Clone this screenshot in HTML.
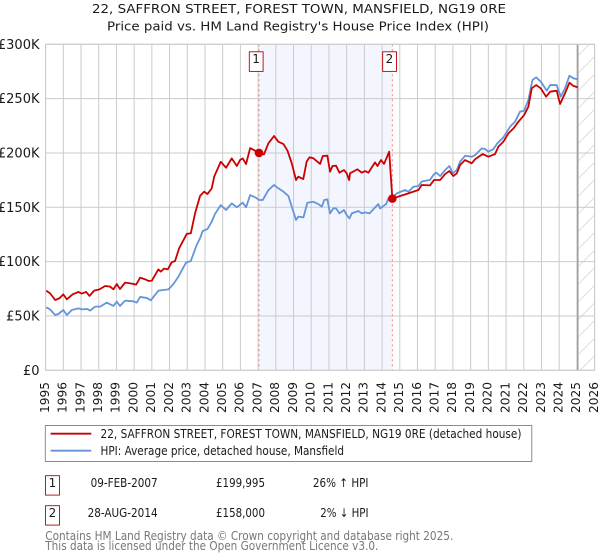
<!DOCTYPE html>
<html>
<head>
<meta charset="utf-8">
<style>
html,body{margin:0;padding:0;background:#fff;}
svg{display:block;}
text{font-family:"DejaVu Sans","Liberation Sans",sans-serif;fill:#1a1a1a;}
</style>
</head>
<body>
<svg id="chart" xmlns="http://www.w3.org/2000/svg" width="600" height="560" viewBox="0 0 600 560">
<defs>
<pattern id="hatch" patternUnits="userSpaceOnUse" width="17.6" height="17.6">
<path d="M-2 19.6 L19.6 -2" stroke="#d8d8d8" stroke-width="0.9" fill="none"/>
</pattern>
</defs>
<text x="299" y="13" text-anchor="middle" font-size="12.5" textLength="414" lengthAdjust="spacingAndGlyphs">22, SAFFRON STREET, FOREST TOWN, MANSFIELD, NG19 0RE</text>
<text x="298" y="30.5" text-anchor="middle" font-size="12.5" textLength="382" lengthAdjust="spacingAndGlyphs">Price paid vs. HM Land Registry's House Price Index (HPI)</text>
<g id="plot"></g>
<g>
<rect x="45.3" y="425.5" width="486.5" height="36" fill="#fff" stroke="#808080" stroke-width="0.9"/>
<line x1="50.6" y1="433.7" x2="91.3" y2="433.7" stroke="#cc0000" stroke-width="1.8"/>
<text x="100.5" y="437.8" font-size="12" textLength="421" lengthAdjust="spacingAndGlyphs">22, SAFFRON STREET, FOREST TOWN, MANSFIELD, NG19 0RE (detached house)</text>
<line x1="50.6" y1="450.7" x2="91.3" y2="450.7" stroke="#6495d8" stroke-width="1.8"/>
<text x="100.5" y="454.8" font-size="12" textLength="243.5" lengthAdjust="spacingAndGlyphs">HPI: Average price, detached house, Mansfield</text>
</g>
<g>
<rect x="45.5" y="475.7" width="14" height="19.4" fill="#fff" stroke="#bb0000" stroke-width="0.9"/>
<text x="52.5" y="487.2" text-anchor="middle" font-size="12">1</text>
<text x="157.6" y="487.2" text-anchor="end" font-size="12" textLength="67" lengthAdjust="spacingAndGlyphs">09-FEB-2007</text>
<text x="265" y="487.2" text-anchor="end" font-size="12" textLength="49" lengthAdjust="spacingAndGlyphs">£199,995</text>
<text x="368.5" y="487.2" text-anchor="end" font-size="12" textLength="55.6" lengthAdjust="spacingAndGlyphs">26% ↑ HPI</text>
</g>
<g>
<rect x="45.5" y="505.7" width="14" height="19.4" fill="#fff" stroke="#bb0000" stroke-width="0.9"/>
<text x="52.5" y="517.2" text-anchor="middle" font-size="12">2</text>
<text x="157.6" y="517.2" text-anchor="end" font-size="12" textLength="70" lengthAdjust="spacingAndGlyphs">28-AUG-2014</text>
<text x="265" y="517.2" text-anchor="end" font-size="12" textLength="49" lengthAdjust="spacingAndGlyphs">£158,000</text>
<text x="368.5" y="517.2" text-anchor="end" font-size="12" textLength="48.3" lengthAdjust="spacingAndGlyphs">2% ↓ HPI</text>
</g>
<text x="45.3" y="540" font-size="12" style="fill:#777" textLength="408" lengthAdjust="spacingAndGlyphs">Contains HM Land Registry data © Crown copyright and database right 2025.</text>
<text x="45.3" y="550" font-size="12" style="fill:#777" textLength="333" lengthAdjust="spacingAndGlyphs">This data is licensed under the Open Government Licence v3.0.</text>
</svg>
<script>
const yearTicks = [1995,1996,1997,1998,1999,2000,2001,2002,2003,2004,2005,2006,2007,2008,2009,2010,2011,2012,2013,2014,2015,2016,2017,2018,2019,2020,2021,2022,2023,2024,2025,2026];
const priceTicks = [0,50,100,150,200,250,300];
const priceTickLabels = ['£0','£50K','£100K','£150K','£200K','£250K','£300K'];

const hpiYears = [1995.03,1995.25,1995.54,1995.72,1996,1996.2,1996.48,1996.85,1997.04,1997.36,1997.51,1997.8,1998.08,1998.45,1998.83,1999.02,1999.2,1999.49,1999.96,2000.15,2000.34,2000.71,2000.94,2001.37,2001.65,2001.94,2002.22,2002.5,2002.93,2003.2,2003.53,2003.72,2003.87,2004.14,2004.38,2004.57,2004.89,2005.19,2005.51,2005.8,2006.13,2006.32,2006.55,2006.83,2007.07,2007.26,2007.58,2007.9,2008.14,2008.43,2008.71,2008.9,2009.14,2009.27,2009.56,2009.78,2010.12,2010.4,2010.6,2010.73,2010.91,2011.06,2011.25,2011.4,2011.59,2011.85,2012,2012.16,2012.29,2012.66,2012.86,2013.04,2013.29,2013.61,2013.79,2013.89,2014.23,2014.36,2014.55,2014.83,2015.3,2015.49,2015.77,2016.05,2016.24,2016.71,2016.9,2017.05,2017.28,2017.56,2017.8,2017.99,2018.22,2018.4,2018.69,2019.06,2019.25,2019.63,2019.82,2020,2020.29,2020.51,2020.85,2021.23,2021.51,2021.79,2022.02,2022.26,2022.49,2022.7,2022.96,2023.3,2023.49,2023.86,2024.09,2024.33,2024.58,2024.8,2025.05];
const hpiValues = [58,56.1,50.9,51.8,55.5,50.9,55.5,57,56.1,56.4,54.9,58.6,58.6,62.3,59.2,63.2,59.2,64.1,63.5,62.3,67.5,66.6,64.4,73.3,73.9,74.5,79.4,86.2,99.1,100.6,115.3,121.5,128.2,130,136.8,144,152,147.5,153.6,150,154.3,150,161.3,159.2,156.7,156.7,165.9,170.6,167.5,164.4,160.4,150.6,138.3,141.4,140.7,154.2,155.1,153,150.6,156.7,157.3,144.4,149,149,144.4,147.5,142.9,139.8,144.4,146.6,144.4,145.3,144.4,149.9,153,149,153,158.2,158.2,162.8,165.9,164.4,168.9,169.6,173.7,175.2,179.8,182,178.8,184.3,188,181.3,184.3,191.9,197.4,196.5,198,204.2,203.6,201.2,203.6,208.9,214.4,224.2,228.8,238,238.9,248.7,267.1,269.6,265.6,257.3,262.5,262.5,251.8,259.5,271.1,268.7,267.8];

const paidYears = [1995.03,1995.25,1995.54,1995.78,1996,1996.2,1996.53,1996.85,1997.04,1997.29,1997.48,1997.74,1998.04,1998.36,1998.64,1998.83,1999.02,1999.2,1999.49,1999.87,2000.11,2000.34,2000.62,2000.81,2001,2001.37,2001.5,2001.69,2001.9,2002.12,2002.31,2002.54,2002.97,2003.2,2003.44,2003.72,2003.95,2004.14,2004.38,2004.52,2004.89,2005.19,2005.51,2005.8,2005.98,2006.13,2006.32,2006.55,2006.83,2007.07,2007.33,2007.58,2007.9,2008.14,2008.43,2008.66,2008.9,2009.14,2009.27,2009.55,2009.74,2009.9,2010.12,2010.5,2010.65,2010.91,2011.06,2011.2,2011.4,2011.59,2011.85,2012,2012.14,2012.19,2012.61,2012.85,2013.04,2013.23,2013.6,2013.74,2013.94,2014.11,2014.4,2014.58,2015.02,2015.49,2015.77,2016.05,2016.24,2016.71,2016.93,2017.28,2017.56,2017.8,2018.02,2018.22,2018.4,2018.69,2019.06,2019.25,2019.68,2020,2020.38,2020.57,2020.85,2021.13,2021.42,2021.7,2022.02,2022.26,2022.45,2022.7,2022.96,2023.26,2023.49,2023.86,2024.05,2024.33,2024.58,2024.8,2025.05];
const paidValues = [73.3,70.9,64.7,66.3,69.9,65.3,69.9,72.1,70.6,72.1,68.4,73.3,74.5,77.6,77,74.5,79.4,74.8,80.7,79.8,78.8,85.3,83.7,82.2,82.5,92.9,90.8,93.6,92.9,99.4,100.6,112.3,125.5,126.1,144.5,160.4,164.4,162.2,167.4,178.2,191.9,186.4,195,188,193.5,195,189.8,204.5,202.1,199.6,198.7,208.9,215.6,210.4,208.2,202.1,190.5,175.1,178.2,176,192,196,195.1,189.9,197.2,197.5,182.8,188,188.3,181.9,184.3,181.3,175.1,181.3,185,181.9,183.4,181.9,191.3,188,193.5,189.9,201.2,158,160.4,162.8,164.4,165.9,170.5,170.2,175.1,175.2,180.6,183.4,178.8,181.3,188.9,193.5,190.5,194.2,199,196.6,199,205.8,210.4,218,222.6,228.8,234.9,242.6,259.5,262.5,259.5,251.8,256.4,257.3,245.1,254.9,264.7,261.7,260.4];

const saleYears = [2007.05,2014.58];
const saleValues = [199.995,158];
const saleNumbers = ['1','2'];
const forecastStart = 2025.05;

const SVG_NS = 'http://www.w3.org/2000/svg';
const plot = document.getElementById('plot');
const LEFT = 45.6, RIGHT = 594.6, TOP = 44.3, BOTTOM = 370.3;
const xMin = 1995, xMax = 2026, yMax = 300;
function xScale(v){ return LEFT + (v - xMin) * (RIGHT - LEFT) / (xMax - xMin); }
function yScale(v){ return BOTTOM - v * (BOTTOM - TOP) / yMax; }
function svgEl(tag, props){
  const el = document.createElementNS(SVG_NS, tag);
  for (const k in props) el.setAttribute(k, props[k]);
  plot.appendChild(el);
  return el;
}
function pathFrom(xs, ys){
  return xs.map(function(x,i){ return (i ? 'L' : 'M') + xScale(x).toFixed(2) + ' ' + yScale(ys[i]).toFixed(2); }).join(' ');
}

const shade = svgEl('rect', {x:xScale(saleYears[0]), y:TOP, width:xScale(saleYears[1])-xScale(saleYears[0]), height:BOTTOM-TOP, fill:'#f3f6fe'});



const hatchRect = svgEl('rect', {x:xScale(forecastStart), y:TOP, width:RIGHT-xScale(forecastStart), height:BOTTOM-TOP, fill:'url(#hatch)'});



yearTicks.forEach(function(yr){
  const g = svgEl('line', {x1:xScale(yr), x2:xScale(yr), y1:TOP, y2:BOTTOM, stroke:'#cbcbcb', 'stroke-width':1});
  
  
  const lx = xScale(yr) + 3.3;
  const t = svgEl('text', {x:lx, y:413, 'font-size':12.5, textLength:31, lengthAdjust:'spacingAndGlyphs', transform:'rotate(-90 ' + lx + ' 413)'});
  
  
  t.textContent = yr;
});

priceTicks.forEach(function(v,i){
  const g = svgEl('line', {x1:LEFT, x2:RIGHT, y1:yScale(v), y2:yScale(v), stroke:'#cbcbcb', 'stroke-width':1});
  
  
  const t = svgEl('text', {x:39.5, y:yScale(v)+4.5, 'font-size':13, 'text-anchor':'end'});
  
  
  t.textContent = priceTickLabels[i];
});

const forecastLine = svgEl('line', {x1:xScale(forecastStart), x2:xScale(forecastStart), y1:TOP, y2:BOTTOM, stroke:'#999999', 'stroke-width':1.4});



saleYears.forEach(function(yr){
  const d = svgEl('line', {x1:xScale(yr), x2:xScale(yr), y1:TOP, y2:BOTTOM, stroke:'#ff8080', 'stroke-width':1, 'stroke-dasharray':'2 3'});
  
  
});

const hpiLine = svgEl('path', {d:pathFrom(hpiYears, hpiValues), fill:'none', stroke:'#6495d8', 'stroke-width':1.8, 'stroke-linejoin':'round'});



const paidLine = svgEl('path', {d:pathFrom(paidYears, paidValues), fill:'none', stroke:'#cc0000', 'stroke-width':1.8, 'stroke-linejoin':'round'});



saleYears.forEach(function(yr,i){
  const c = svgEl('circle', {cx:xScale(yr), cy:yScale(saleValues[i]), r:4.3, fill:'#cc0000'});
  
  
  const b = svgEl('rect', {x:xScale(yr)-9.7, y:51.8, width:13.8, height:19.6, fill:'#fff', stroke:'#bb0000', 'stroke-width':0.9});
  
  
  const t = svgEl('text', {x:xScale(yr)-2.9, y:63, 'font-size':12, 'text-anchor':'middle'});
  
  
  t.textContent = saleNumbers[i];
});

const frame = svgEl('rect', {x:LEFT, y:TOP, width:RIGHT-LEFT, height:BOTTOM-TOP, fill:'none', stroke:'#cbcbcb', 'stroke-width':1});


</script>
</body>
</html>
